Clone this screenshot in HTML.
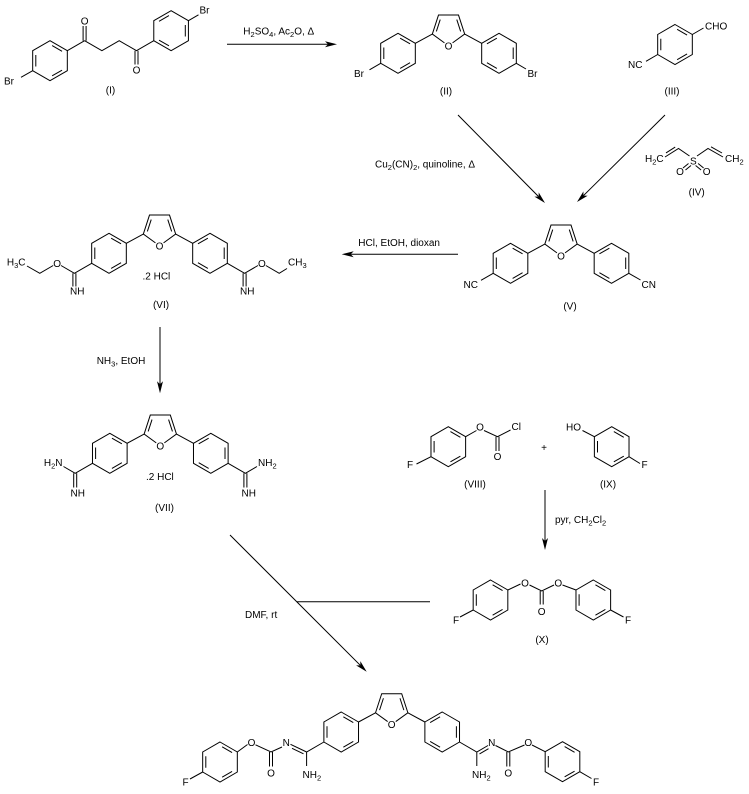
<!DOCTYPE html>
<html><head><meta charset="utf-8">
<style>
html,body{margin:0;padding:0;background:#fff;}
svg{display:block;}
text{font-family:"Liberation Sans",Arial,sans-serif;font-size:10px;fill:#000;}
</style></head><body>
<svg width="749" height="794" viewBox="0 0 749 794" xmlns="http://www.w3.org/2000/svg">
<defs>
<g id="rA" fill="none" stroke="#000" stroke-width="1">
<polygon points="0,-20 17.32,-10 17.32,10 0,20 -17.32,10 -17.32,-10"/>
<path d="M2.13,-15.17 L12.07,-9.43 M12.07,9.43 L2.13,15.17 M-14.2,5.74 L-14.2,-5.74"/>
</g>
<g id="rB" fill="none" stroke="#000" stroke-width="1">
<polygon points="0,-20 17.32,-10 17.32,10 0,20 -17.32,10 -17.32,-10"/>
<path d="M-2.13,-15.17 L-12.07,-9.43 M14.2,-5.74 L14.2,5.74 M-12.07,9.43 L-2.13,15.17"/>
</g>
<g id="core">
<use href="#rA" x="-50.5" y="0"/>
<use href="#rB" x="50.5" y="0"/>
<path fill="none" stroke="#000" stroke-width="1" d="M-4.05,-10.44 L-16.18,-19.24 L-10,-38.26 L10,-38.26 L16.18,-19.24 L4.05,-10.44 M-12.14,-21.88 L-8.28,-33.75 M12.14,-21.88 L8.28,-33.75 M-33.18,-10 L-16.18,-19.24 M33.18,-10 L16.18,-19.24"/>
</g>
<path id="ah" d="M0,0 L-12,-3 L-9,0 L-12,3 Z" fill="#000" stroke="none"/>
</defs>

<!-- rings and cores -->
<use href="#rA" transform="translate(50,60.7)"/>
<use href="#rB" transform="translate(171.1,30.7)"/>
<use href="#core" transform="translate(448.5,53.3)"/>
<use href="#rA" transform="translate(675,44.5)"/>
<use href="#core" transform="translate(561,263.3)"/>
<use href="#core" transform="translate(159.5,253.3)"/>
<use href="#core" transform="translate(160.3,453.3)"/>
<use href="#rA" transform="translate(448.3,446.7)"/>
<use href="#rA" transform="translate(611.7,446.7)"/>
<use href="#rA" transform="translate(490.5,600)"/>
<use href="#rA" transform="translate(593.3,600)"/>
<use href="#core" transform="translate(391.7,732)"/>
<use href="#rA" transform="translate(220,762)"/>
<use href="#rA" transform="translate(562.5,761.7)"/>

<g fill="none" stroke="#000" stroke-width="1">
<!-- (I) -->
<path d="M32.7,70.7 L21,77.3 M67.3,50.7 L84.6,40.7 M83.1,40.7 L83.1,26 M86.1,40.7 L86.1,26 M84.6,40.7 L101.9,50.7 L119.2,40.7 L136.5,50.7 L153.8,40.7 M135,50.7 L135,64.5 M138,50.7 L138,64.5 M188.4,20.7 L198.5,14.8"/>
<!-- (II) -->
<path d="M380.7,63.3 L369.5,69.8 M516.3,63.3 L526,69"/>
<!-- (III) -->
<path d="M692.3,34.5 L703.5,28 M657.7,54.5 L646,61.3"/>
<!-- (IV) -->
<path d="M665,157 L678.5,148.5 L689.5,156 M666,152.9 L675.2,147.1 M697,156 L708,148.5 L723,157 M711,146.8 L722,153 M683,168 L688.5,163.5 M685.5,170 L691,165.5 M703.6,168 L698.1,163.5 M701.1,170 L695.6,165.5"/>
<!-- (V) -->
<path d="M493.2,273.3 L481,280.3 M628.8,273.3 L640.5,280"/>
<!-- (VI) -->
<path d="M91.7,263.3 L74.4,273.3 L61,265.5 M53.2,265.5 L39.8,273.3 L27,266 M72.9,273.3 L72.9,286.5 M75.9,273.3 L75.9,286.5 M227.3,263.3 L244.6,273.3 L258,265.5 M265.8,265.5 L279.2,273.3 L287,268.5 M243.1,273.3 L243.1,286.5 M246.1,273.3 L246.1,286.5"/>
<!-- (VII) -->
<path d="M92.5,463.3 L75.2,473.3 L63.5,466.5 M73.7,473.3 L73.7,487.5 M76.7,473.3 L76.7,487.5 M228.1,463.3 L245.4,473.3 L257,466.5 M243.9,473.3 L243.9,487.5 M246.9,473.3 L246.9,487.5"/>
<!-- (VIII) (IX) -->
<path d="M465.6,436.7 L476.5,430.5 M484,430.5 L497.5,436.7 L510.5,430 M496,436.7 L496,451 M499,436.7 L499,451 M431,456.7 L416.5,464 M582.5,430.5 L594.4,436.7 M629,456.7 L640,463.5"/>
<!-- (X) -->
<path d="M507.8,590 L520.5,584 M529.5,585 L541.7,591 L554,585 M562.5,585 L576,590 M540.2,591 L540.2,604.5 M543.2,591 L543.2,604.5 M473.2,610 L460,617 M610.6,610 L623.5,617"/>
<!-- final product -->
<path d="M323.9,742 L306.6,752 L290.5,744.3 M303.5,753.8 L292,748.3 M306.6,752 L306.6,766 M282,747 L271,752 L255.5,744.8 M269.5,752 L269.5,766.5 M272.5,752 L272.5,766.5 M247.5,744.5 L237.3,752 M202.7,772 L190,779"/>
<path d="M459.5,742 L476.8,752 L488,745.5 M479.5,753.9 L488.5,748.7 M476.8,752 L476.8,766 M495.5,745.5 L508.3,752 L524.5,745 M506.8,752 L506.8,766.5 M509.8,752 L509.8,766.5 M532,745 L545.2,751.7 M579.8,771.7 L591.5,778.5"/>
<!-- arrows -->
<path d="M227,44.3 L328,44.3 M458,115 L538.6,196.6 M665,115 L583.4,195.7 M458,254.3 L350.7,254.3 M160,327 L160,384.3 M545,490 L545,541 M230,535 L360.3,665.3 M296.7,601.7 L430,601.7"/>
</g>
<use href="#ah" transform="translate(337,44.3)"/>
<use href="#ah" transform="translate(545,203) rotate(45.3)"/>
<use href="#ah" transform="translate(577,202) rotate(135.3)"/>
<use href="#ah" transform="translate(341.7,254.3) rotate(180)"/>
<use href="#ah" transform="translate(160,393.3) rotate(90)"/>
<use href="#ah" transform="translate(545,550) rotate(90)"/>
<use href="#ah" transform="translate(366.7,671.7) rotate(45)"/>

<!-- texts (I) -->
<text x="4" y="84.5">Br</text>
<text x="84.6" y="24.5" text-anchor="middle">O</text>
<text x="136.5" y="73.5" text-anchor="middle">O</text>
<text x="199.5" y="13.5">Br</text>
<text x="110.5" y="93.5" text-anchor="middle">(I)</text>
<!-- reagent 1 -->
<text x="243.3" y="34.5">H<tspan font-size="7.5" dy="2.5">2</tspan><tspan dy="-2.5">SO</tspan><tspan font-size="7.5" dy="2.5">4</tspan><tspan dy="-2.5">, Ac</tspan><tspan font-size="7.5" dy="2.5">2</tspan><tspan dy="-2.5">O, Δ</tspan></text>
<!-- (II) -->
<text x="448.5" y="49.4" text-anchor="middle">O</text>
<text x="354" y="77">Br</text>
<text x="527.5" y="77">Br</text>
<text x="446" y="94.5" text-anchor="middle">(II)</text>
<!-- (III) -->
<text x="705" y="29.5">CHO</text>
<text x="642.5" y="68" text-anchor="end">NC</text>
<text x="672" y="94.5" text-anchor="middle">(III)</text>
<!-- reagent 2 -->
<text x="375" y="167.7">Cu<tspan font-size="7.5" dy="2.5">2</tspan><tspan dy="-2.5">(CN)</tspan><tspan font-size="7.5" dy="2.5">2</tspan><tspan dy="-2.5">, quinoline, Δ</tspan></text>
<!-- (IV) -->
<text x="645" y="162">H<tspan font-size="7.5" dy="2.5">2</tspan><tspan dy="-2.5">C</tspan></text>
<text x="693.3" y="164.5" text-anchor="middle">S</text>
<text x="725" y="162">CH<tspan font-size="7.5" dy="2.5">2</tspan></text>
<text x="680" y="174.8" text-anchor="middle">O</text>
<text x="706.7" y="174.8" text-anchor="middle">O</text>
<text x="696.7" y="195.5" text-anchor="middle">(IV)</text>
<!-- (V) -->
<text x="561" y="259.4" text-anchor="middle">O</text>
<text x="478" y="288" text-anchor="end">NC</text>
<text x="641.5" y="288">CN</text>
<text x="570" y="309.5" text-anchor="middle">(V)</text>
<!-- reagent 3 -->
<text x="358.3" y="245.8">HCl, EtOH, dioxan</text>
<!-- (VI) -->
<text x="159.5" y="249.4" text-anchor="middle">O</text>
<text x="25.5" y="265.5" text-anchor="end">H<tspan font-size="7.5" dy="2.5">3</tspan><tspan dy="-2.5">C</tspan></text>
<text x="57.1" y="267" text-anchor="middle">O</text>
<text x="70" y="294.5">NH</text>
<text x="261.9" y="267" text-anchor="middle">O</text>
<text x="288" y="265.5">CH<tspan font-size="7.5" dy="2.5">3</tspan></text>
<text x="240" y="294.5">NH</text>
<text x="142.5" y="279.5">.2 HCl</text>
<text x="161" y="308" text-anchor="middle">(VI)</text>
<!-- reagent 4 -->
<text x="96.7" y="364">NH<tspan font-size="7.5" dy="2.5">3</tspan><tspan dy="-2.5">, EtOH</tspan></text>
<!-- (VII) -->
<text x="160.3" y="449.4" text-anchor="middle">O</text>
<text x="62.5" y="466" text-anchor="end">H<tspan font-size="7.5" dy="2.5">2</tspan><tspan dy="-2.5">N</tspan></text>
<text x="70.5" y="496.5">NH</text>
<text x="258" y="466">NH<tspan font-size="7.5" dy="2.5">2</tspan></text>
<text x="241.5" y="496.5">NH</text>
<text x="146" y="480">.2 HCl</text>
<text x="164.5" y="511" text-anchor="middle">(VII)</text>
<!-- (VIII) -->
<text x="480" y="430.5" text-anchor="middle">O</text>
<text x="511.5" y="430">Cl</text>
<text x="497.5" y="460" text-anchor="middle">O</text>
<text x="407" y="468">F</text>
<text x="475" y="487.5" text-anchor="middle">(VIII)</text>
<text x="544" y="451" text-anchor="middle">+</text>
<!-- (IX) -->
<text x="581" y="430.5" text-anchor="end">HO</text>
<text x="641.5" y="468">F</text>
<text x="608" y="487.5" text-anchor="middle">(IX)</text>
<!-- reagent 5 -->
<text x="555" y="523">pyr, CH<tspan font-size="7.5" dy="2.5">2</tspan><tspan dy="-2.5">Cl</tspan><tspan font-size="7.5" dy="2.5">2</tspan></text>
<!-- (X) -->
<text x="525" y="586.7" text-anchor="middle">O</text>
<text x="558.3" y="586.7" text-anchor="middle">O</text>
<text x="541.7" y="615" text-anchor="middle">O</text>
<text x="453" y="623.5">F</text>
<text x="625" y="623.5">F</text>
<text x="542" y="643" text-anchor="middle">(X)</text>
<!-- reagent 6 -->
<text x="245" y="618">DMF, rt</text>
<!-- final product -->
<text x="391.7" y="728" text-anchor="middle">O</text>
<text x="251.5" y="746" text-anchor="middle">O</text>
<text x="286.3" y="746" text-anchor="middle">N</text>
<text x="271" y="776.5" text-anchor="middle">O</text>
<text x="302.5" y="778">NH<tspan font-size="7.5" dy="2.5">2</tspan></text>
<text x="182.5" y="785.5">F</text>
<text x="491.7" y="746" text-anchor="middle">N</text>
<text x="472" y="778">NH<tspan font-size="7.5" dy="2.5">2</tspan></text>
<text x="508.3" y="776.5" text-anchor="middle">O</text>
<text x="528.3" y="746" text-anchor="middle">O</text>
<text x="593" y="785.5">F</text>
</svg>
</body></html>
